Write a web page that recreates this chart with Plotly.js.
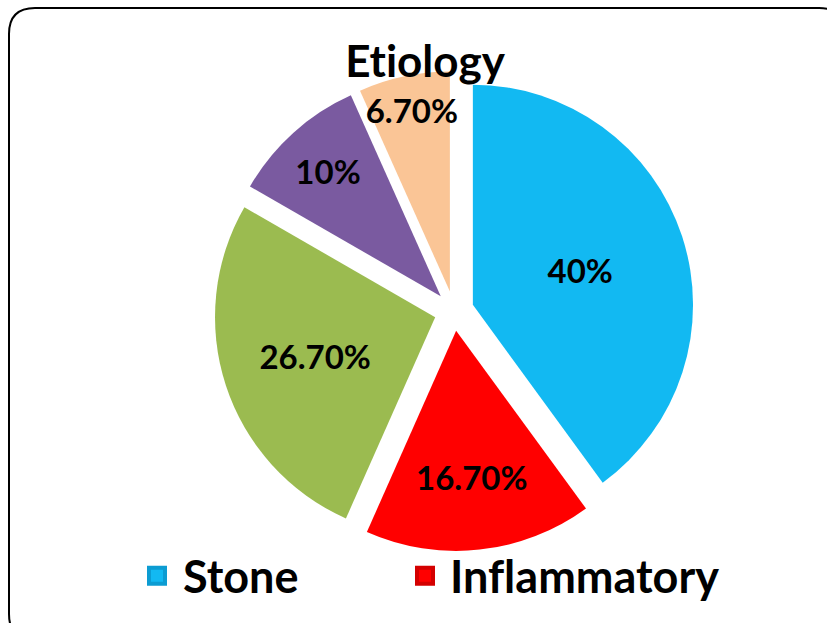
<!DOCTYPE html>
<html>
<head>
<meta charset="utf-8">
<script src="https://cdn.plot.ly/plotly-3.0.1.min.js"></script>
<style>html,body{margin:0;padding:0;background:#fff;}#chart{width:827px;height:623px;}#chart text{font-variant-ligatures:none;font-feature-settings:"liga" 0,"clig" 0;}</style>
</head>
<body>
<div id="chart"></div>
<script>
var categories = ["Stone", "Inflammatory", "Neoplastic", "Traumatic", "Idiopathic"];
var values = [40, 16.7, 26.7, 10, 6.7];
var valueLabels = ["40%", "16.70%", "26.70%", "10%", "6.70%"];
var colors = ["#12B9F2", "#FF0000", "#9BBB50", "#7A5AA0", "#FAC596"];
var legendCategories = ["Stone", "Inflammatory"];
var legendColors = ["#12B9F2", "#FF0000"];
var legendEdges = ["#0C9CD2", "#D40000"];

var FONT = "Lato, 'Open Sans', sans-serif";
var W = 827, H = 623;

var traces = [{
  type: "pie",
  labels: categories,
  values: values,
  text: valueLabels,
  textinfo: "text",
  textposition: "inside",
  insidetextorientation: "horizontal",
  sort: false,
  direction: "clockwise",
  rotation: 0,
  pull: 0.09,
  marker: {colors: colors, line: {color: "#ffffff", width: 0}},
  insidetextfont: {family: FONT, size: 33, color: "#000000", weight: 700},
  domain: {x: [0.2588, 0.8392], y: [0.1156, 0.886]},
  showlegend: false,
  hoverinfo: "label+text"
}];
var legendIds = ["legend", "legend2"];
legendCategories.forEach(function (name, i) {
  traces.push({
    type: "scatter", mode: "markers", x: [null], y: [null], name: name,
    legend: legendIds[i],
    marker: {symbol: "square", size: 20, color: legendColors[i], line: {color: legendEdges[i], width: 4}},
    showlegend: true, hoverinfo: "skip"
  });
});

function px(x) { return x / W; }
function py(y) { return 1 - y / H; }
var L = 9, T = 8, R = 845, B = 640, rad = 26;
var path = "M " + px(L + rad) + "," + py(T) +
  " L " + px(R - rad) + "," + py(T) +
  " Q " + px(R) + "," + py(T) + " " + px(R) + "," + py(T + rad) +
  " L " + px(R) + "," + py(B - rad) +
  " Q " + px(R) + "," + py(B) + " " + px(R - rad) + "," + py(B) +
  " L " + px(L + rad) + "," + py(B) +
  " Q " + px(L) + "," + py(B) + " " + px(L) + "," + py(B - rad) +
  " L " + px(L) + "," + py(T + rad) +
  " Q " + px(L) + "," + py(T) + " " + px(L + rad) + "," + py(T) + " Z";

var legendFont = {family: FONT, size: 45, color: "#000000", weight: 700};
var layout = {
  width: W, height: H,
  margin: {l: 0, r: 0, t: 0, b: 0},
  paper_bgcolor: "#ffffff",
  plot_bgcolor: "rgba(0,0,0,0)",
  title: {text: "Etiology", font: {family: FONT, size: 44, color: "#000000", weight: 700},
          x: 425 / W, xanchor: "center", y: 1 - 62 / H, yanchor: "middle", yref: "container"},
  xaxis: {visible: false},
  yaxis: {visible: false},
  showlegend: true,
  legend: {orientation: "h", x: 131 / W, xanchor: "left", y: 1 - 576 / H, yanchor: "middle",
           font: legendFont, itemsizing: "trace", itemwidth: 42, bgcolor: "rgba(0,0,0,0)"},
  legend2: {orientation: "h", x: 400 / W, xanchor: "left", y: 1 - 576 / H, yanchor: "middle",
           font: legendFont, itemsizing: "trace", itemwidth: 40, bgcolor: "rgba(0,0,0,0)"},
  shapes: [{type: "path", xref: "paper", yref: "paper", path: path,
            line: {color: "#000000", width: 2}, fillcolor: "rgba(0,0,0,0)", layer: "above"}]
};

Plotly.newPlot("chart", traces, layout, {displayModeBar: false, staticPlot: true}).then(function (gd) {
  // keep the slice labels at their full font size (the reference lets them overflow)
  var texts = gd.querySelectorAll(".slicetext text, text.slicetext");
  texts.forEach(function (t) {
    var tr = t.getAttribute("transform");
    if (tr && /scale\(/.test(tr)) t.setAttribute("transform", tr.replace(/scale\([^)]*\)/, ""));
  });
});
</script>
</body>
</html>
